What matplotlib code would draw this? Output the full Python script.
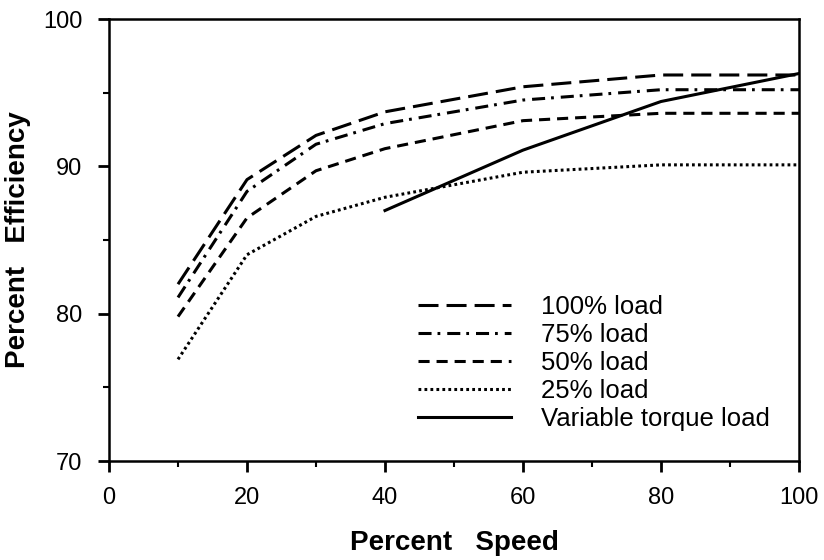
import matplotlib
matplotlib.use('Agg')
import matplotlib.pyplot as plt
from matplotlib.ticker import MultipleLocator

plt.rcParams['font.family'] = ['Liberation Sans', 'DejaVu Sans']
plt.rcParams['lines.scale_dashes'] = False

# ---- data ----
speed = [10, 20, 30, 40, 60, 80, 100]
load_100 = [82.0, 89.1, 92.1, 93.7, 95.4, 96.2, 96.2]
load_75 = [81.1, 88.3, 91.5, 92.9, 94.5, 95.2, 95.2]
load_50 = [79.8, 86.5, 89.7, 91.2, 93.1, 93.6, 93.6]
load_25 = [76.9, 84.0, 86.6, 87.9, 89.6, 90.1, 90.1]

speed_vt = [40, 60, 80, 100]
load_vt = [87.0, 91.1, 94.4, 96.3]

labels = ['100% load', '75% load', '50% load', '25% load', 'Variable torque load']

fig = plt.figure(figsize=(8.24, 5.6), dpi=100)
ax = fig.add_axes([109 / 824, 1 - 461 / 560, 690 / 824, 442 / 560])

lw = 2.2
ax.plot(speed, load_100, color='black', lw=lw, linestyle=(0, (14.4, 5.8)), label=labels[0])
ax.plot(speed, load_75, color='black', lw=lw, linestyle=(0, (9.4, 4.3, 2.0, 5.0)), label=labels[1])
ax.plot(speed, load_50, color='black', lw=lw, linestyle=(0, (8.0, 5.0)), label=labels[2])
ax.plot(speed, load_25, color='black', lw=lw, linestyle=(0, (2.0, 2.3)), label=labels[3])
ax.plot(speed_vt, load_vt, color='black', lw=lw, linestyle='-', label=labels[4])

ax.set_xlim(0, 100)
ax.set_ylim(70, 100)
ax.xaxis.set_major_locator(MultipleLocator(20))
ax.xaxis.set_minor_locator(MultipleLocator(10))
ax.yaxis.set_major_locator(MultipleLocator(10))
ax.yaxis.set_minor_locator(MultipleLocator(5))
ax.tick_params(which='major', direction='out', length=8, width=2, labelsize=17, pad=11)
ax.tick_params(which='minor', direction='out', length=4, width=1.5)

for spine in ax.spines.values():
    spine.set_linewidth(1.8)

ax.set_xlabel('Percent   Speed', fontsize=20, fontweight='bold', labelpad=15)
ax.set_ylabel('Percent   Efficiency', fontsize=20, fontweight='bold', labelpad=9)

ax.legend(loc='upper left', bbox_to_anchor=(418 / 824, 1 - 295 / 560),
          bbox_transform=fig.transFigure, frameon=False, fontsize=18.5,
          handlelength=3.6, handletextpad=1.2, labelspacing=0.16, borderpad=0,
          borderaxespad=0)

fig.savefig('out.png', dpi=100)
